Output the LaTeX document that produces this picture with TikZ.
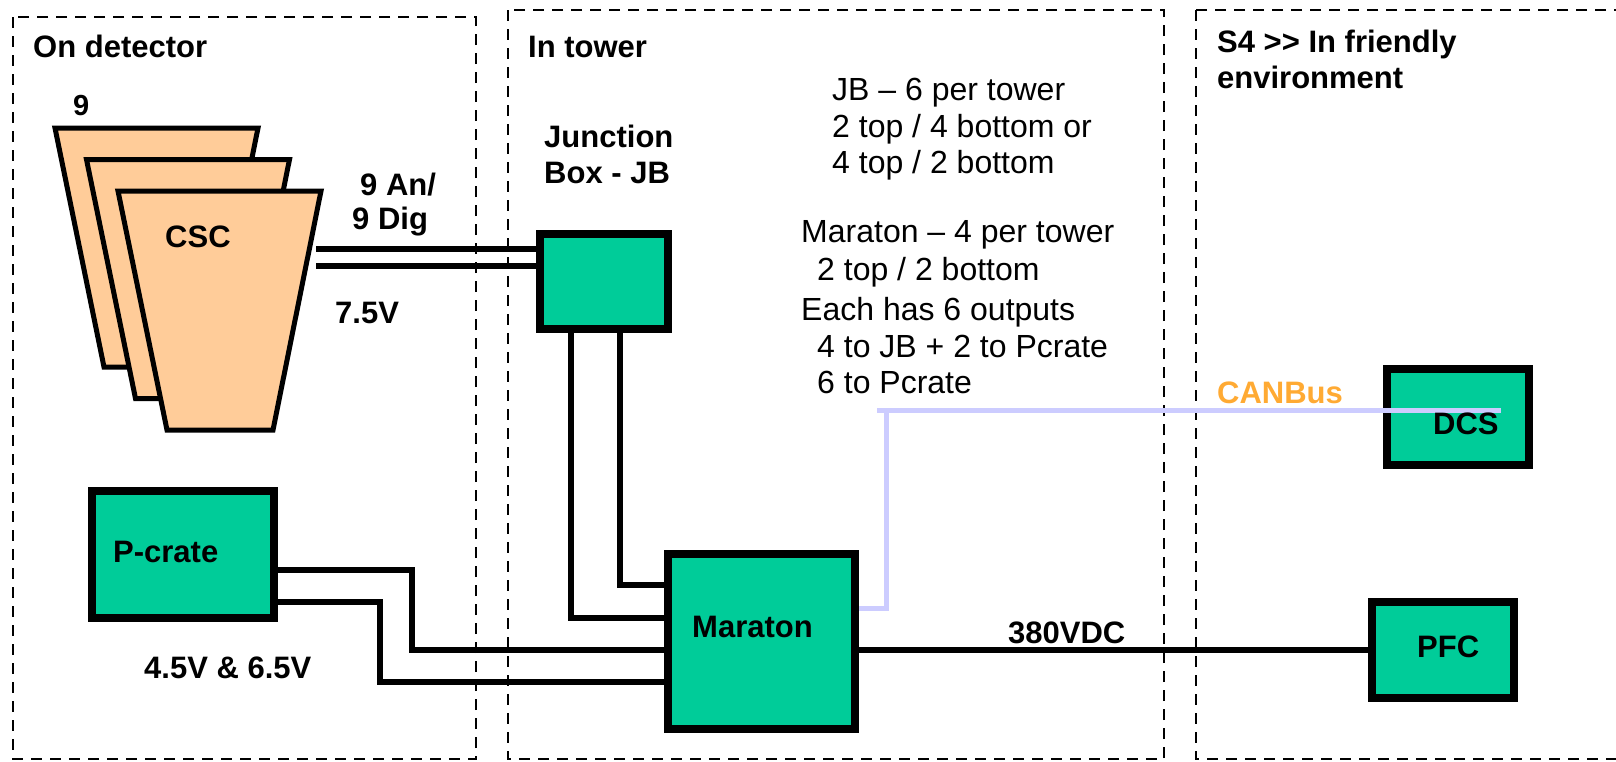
\documentclass[tikz,border=0pt]{standalone}
\usepackage{fontspec}
\setmainfont{Liberation Sans}
\definecolor{unitgreen}{HTML}{00CC99}
\definecolor{cscpeach}{HTML}{FFCC99}
\definecolor{canblue}{HTML}{CCCCFF}
\definecolor{canorange}{HTML}{FFAA33}
\tikzset{
    zone/.style={draw=black, line width=2.5pt, dash pattern=on 11pt off 8pt},
    unit/.style={draw=black, fill=unitgreen, line width=8pt, inner sep=0pt},
    chamber/.style={draw=black, fill=cscpeach, line width=5pt, line join=miter},
    wire/.style={draw=black, line width=5.5pt},
    canbus/.style={draw=canblue, line width=5pt},
    tag/.style={font=\fontsize{31}{37}\selectfont\bfseries, inner sep=0pt, anchor=base west},
    note/.style={font=\fontsize{32}{38}\selectfont, inner sep=0pt, anchor=base west}
}
\begin{document}
\begin{tikzpicture}[x=1pt, y=-1pt]
    % Page
    \useasboundingbox (0,0) rectangle (1616,761);
    \fill[white] (0,0) rectangle (1616,761);

    % Zones
    \draw[zone] (13,17) rectangle (476,759);
    \draw[zone] (508,10) rectangle (1164,759);
    \draw[zone] (1196,10) rectangle (1640,759);
    \node[tag] (detlbl) at (33,57) {On detector};
    \node[tag] (towerlbl) at (528,57) {In tower};
    \node[tag] (envlbl) at (1217,52) {S4 >{}> In friendly};
    \node[tag] (envlbltwo) at (1217,88) {environment};

    % CSC chambers, back to front
    \foreach \k in {0,1,2} {
        \pgfmathsetmacro{\cscshift}{31.5*\k}
        \draw[chamber] (55+\cscshift,128+\cscshift) -- (258+\cscshift,128+\cscshift)
            -- (210+\cscshift,367+\cscshift) -- (104+\cscshift,367+\cscshift) -- cycle;
    }
    \node[tag, font=\fontsize{29}{35}\selectfont\bfseries] (cscnum) at (73,115) {9};
    \node[tag] (csclbl) at (165,247) {CSC};
    \coordinate (cscsig) at (316,249);
    \coordinate (cscpow) at (316,266);

    % Units
    \node[unit, minimum width=128pt, minimum height=95pt] (jb) at (604,281.5) {};
    \node[unit, minimum width=187pt, minimum height=175pt] (maraton) at (761.5,641.5) {};
    \node[unit, minimum width=182pt, minimum height=127pt] (pcrate) at (183,554.5) {};
    \node[unit, minimum width=142pt, minimum height=96pt] (dcs) at (1458,417) {};
    \node[unit, minimum width=142pt, minimum height=96pt] (pfc) at (1443,650) {};

    % Cables
    \draw[wire] (cscsig) -- (jb.west |- 0,249);
    \draw[wire] (cscpow) -- (jb.west |- 0,266);
    \draw[wire] (jb.south -| 571,0) |- (maraton.west |- 0,618);
    \draw[wire] (jb.south -| 620,0) |- (maraton.west |- 0,585);
    \draw[wire] (pcrate.east |- 0,570) -- (412,570) |- (maraton.west |- 0,650);
    \draw[wire] (pcrate.east |- 0,602) -- (380,602) |- (maraton.west |- 0,682);
    \draw[wire] (maraton.east |- 0,650) -- (pfc.west |- 0,650);

    % CANBus
    \coordinate (canstub) at (877,410);
    \coordinate (canend) at (1501,410);
    \draw[canbus] (canstub) -- (canend);
    \draw[canbus] (maraton.east |- 0,608) -| (886,410);
    \node[tag, text=canorange] (canlbl) at (1217,403) {CANBus};

    % Unit labels
    \node[tag] (jblbl) at (544,147) {Junction};
    \node[tag] (jblbltwo) at (544,183) {Box - JB};
    \node[tag] (maratonlbl) at (692,637) {Maraton};
    \node[tag] (pcratelbl) at (113,562) {P-crate};
    \node[tag] (dcslbl) at (1433,434) {DCS};
    \node[tag] (pfclbl) at (1417,657) {PFC};

    % Cable labels
    \node[tag] (siglbl) at (360,195) {9 An/};
    \node[tag] (siglbltwo) at (352,229) {9 Dig};
    \node[tag] (powlbl) at (335,323) {7.5V};
    \node[tag] (lvlbl) at (144,678) {4.5V \& 6.5V};
    \node[tag] (dclbl) at (1008,643) {380VDC};

    % Notes
    \node[note] (noteA) at (832,100) {JB – 6 per tower};
    \node[note] (noteB) at (832,137) {2 top / 4 bottom or};
    \node[note] (noteC) at (832,173) {4 top / 2 bottom};
    \node[note] (noteD) at (801,242) {Maraton – 4 per tower};
    \node[note] (noteE) at (817,280) {2 top / 2 bottom};
    \node[note] (noteF) at (801,320) {Each has 6 outputs};
    \node[note] (noteG) at (817,357) {4 to JB + 2 to Pcrate};
    \node[note] (noteH) at (817,393) {6 to Pcrate};
\end{tikzpicture}
\end{document}
